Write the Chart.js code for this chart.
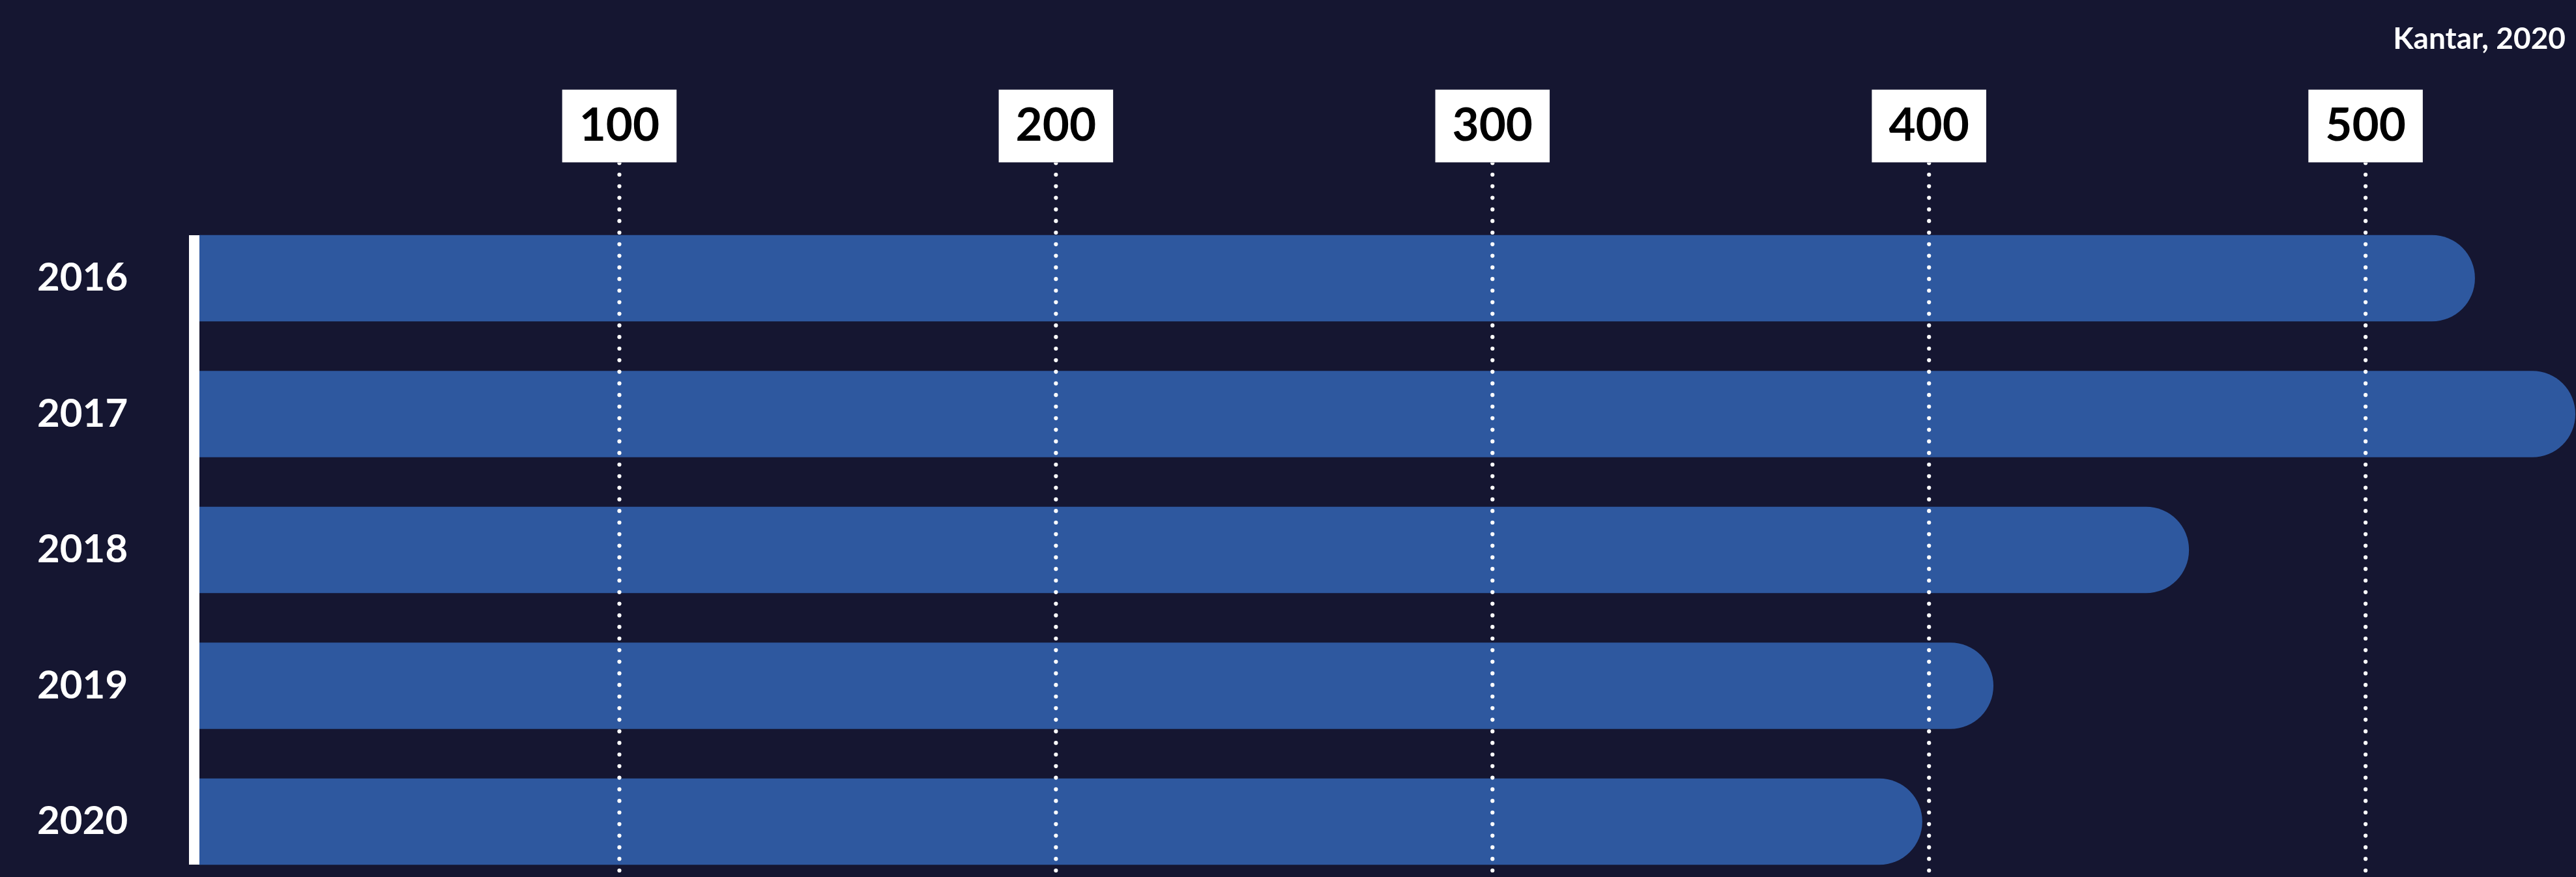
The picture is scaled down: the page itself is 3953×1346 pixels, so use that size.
<!DOCTYPE html>
<html>
<head>
<meta charset="utf-8">
<script src="https://cdn.jsdelivr.net/npm/chart.js@4/dist/chart.umd.min.js"></script>
<style>
  html, body { margin: 0; padding: 0; background: #151631; overflow: hidden; }
  canvas { display: block; }
</style>
</head>
<body>
<canvas id="kchart" width="3953" height="1346"></canvas>
<script>
const years = ['2016', '2017', '2018', '2019', '2020']
const values = [525, 548, 459.5, 414.7, 398.4]
const tickValues = [100, 200, 300, 400, 500]
const source = 'Kantar, 2020'

const bg = '#151631'
const barColor = '#2E589F'
const barH = 132

// white bar at the start of the bars + dotted guide lines + source note
const extras = {
  id: 'extras',
  afterDatasetsDraw(chart) {
    const ctx = chart.ctx
    const x = chart.scales.x
    const y = chart.scales.y
    const area = chart.chartArea
    ctx.save()
    ctx.fillStyle = '#ffffff'
    const top = y.getPixelForValue(0) - barH / 2
    const bottom = y.getPixelForValue(years.length - 1) + barH / 2
    ctx.fillRect(area.left - 16, top, 16, bottom - top)

    ctx.beginPath()
    ctx.rect(0, 249.5, chart.width, chart.height)
    ctx.clip()
    x.ticks.forEach(t => {
      const px = x.getPixelForValue(t.value)
      for (let py = 250.2; py < chart.height + 4; py += 17.8) {
        ctx.beginPath()
        ctx.arc(px, py, 3.1, 0, Math.PI * 2)
        ctx.fill()
      }
    })
    ctx.restore()

    ctx.save()
    ctx.fillStyle = '#ffffff'
    ctx.font = 'bold 46px Lato'
    ctx.textAlign = 'right'
    ctx.textBaseline = 'middle'
    ctx.fillText(source, 3937, 60)
    ctx.restore()
  }
}

const kchart = new Chart(document.getElementById('kchart'), {
  type: 'bar',
  data: {
    labels: years,
    datasets: [{
      data: values,
      backgroundColor: barColor,
      barThickness: barH,
      borderSkipped: 'start',
      borderRadius: { topLeft: 0, bottomLeft: 0, topRight: barH / 2, bottomRight: barH / 2 },
      clip: { left: 0, top: false, right: false, bottom: false }
    }]
  },
  options: {
    indexAxis: 'y',
    responsive: false,
    animation: false,
    devicePixelRatio: 1,
    layout: { padding: { left: 57, right: 0, top: 0, bottom: 85 } },
    plugins: {
      legend: { display: false },
      tooltip: { enabled: false }
    },
    scales: {
      x: {
        position: 'top',
        min: 3.8,
        max: 548.2,
        afterFit: s => { s.height = 427 },
        afterBuildTicks: s => { s.ticks = tickValues.map(v => ({ value: v })) },
        grid: { display: false, drawTicks: false },
        border: { display: false },
        ticks: {
          color: '#000000',
          font: { family: 'Lato', weight: 'bold', size: 71 },
          padding: 191,
          maxRotation: 0,
          autoSkip: false,
          showLabelBackdrop: true,
          backdropColor: '#ffffff',
          backdropPadding: { x: 26, y: 13.2 }
        }
      },
      y: {
        offset: false,
        afterFit: s => { s.width = 249 },
        grid: { display: false, drawTicks: false },
        border: { display: false },
        ticks: {
          color: '#ffffff',
          font: { family: 'Lato', weight: 'bold', size: 60 },
          crossAlign: 'far',
          padding: 0
        }
      }
    }
  },
  plugins: [extras]
});
</script>
</body>
</html>
